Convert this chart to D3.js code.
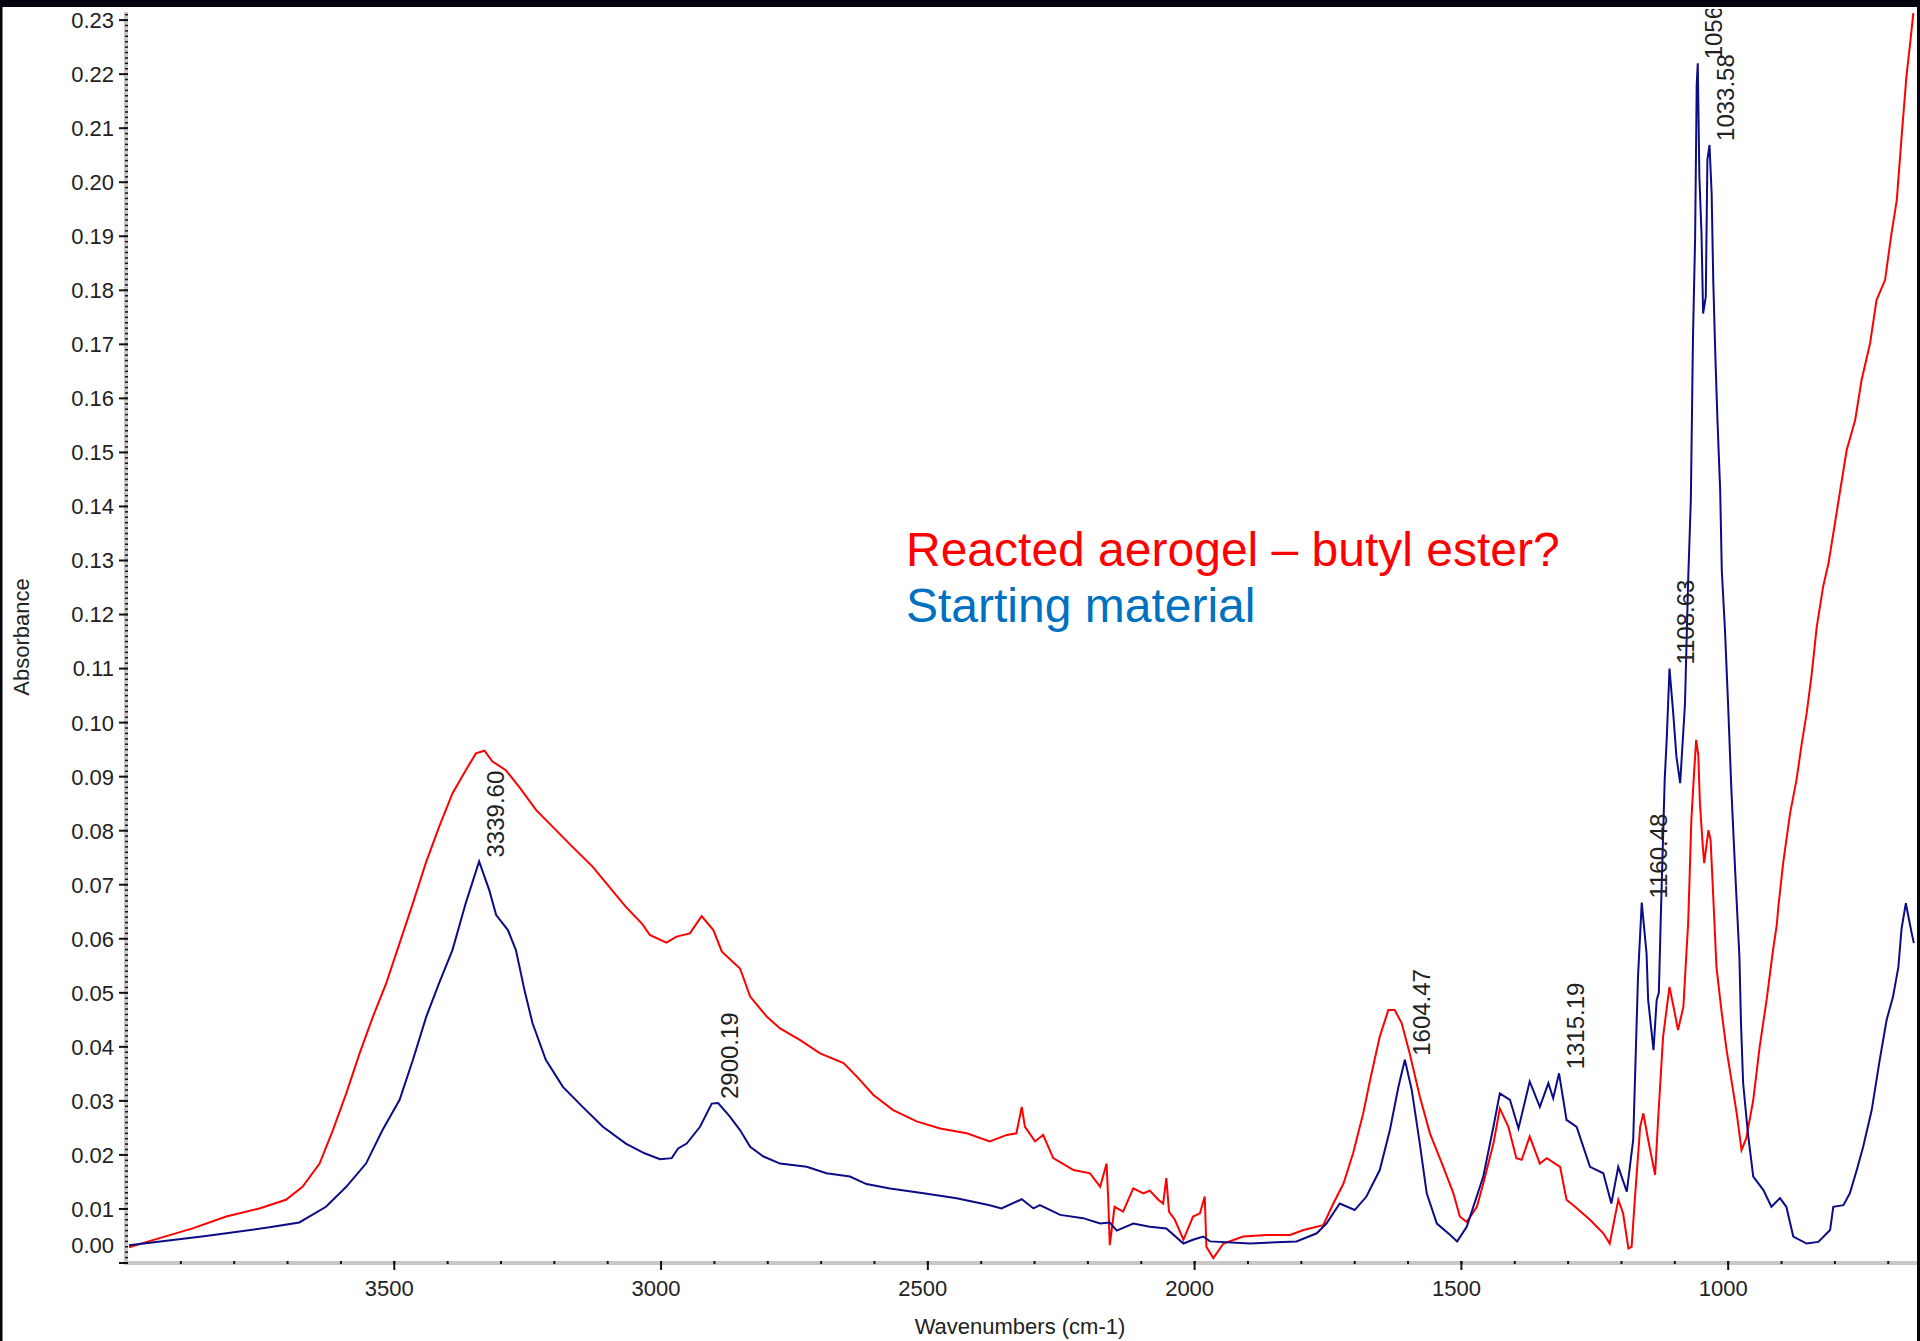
<!DOCTYPE html>
<html lang="en">
<head>
  <meta charset="UTF-8">
  <title>FTIR - Reacted aerogel vs starting material</title>
  <script src="https://d3js.org/d3.v7.min.js"></script>
  <style>
    html, body {
      margin: 0;
      padding: 0;
      background: #fff;
    }
    svg {
      display: block;
      font-family: "Liberation Sans", Arial, sans-serif;
    }
    .tick-label {
      font-size: 22px;
      fill: #222;
    }
    .peak-label {
      font-size: 24px;
      fill: #222;
    }
    .axis-title {
      font-size: 22px;
      fill: #222;
    }
    .legend {
      font-size: 48px;
    }
  </style>
</head>
<body>
  <svg id="chart" width="1920" height="1341"></svg>

  <script>
    // wavenumber (cm-1), absorbance
    const reacted = [
      [3997,0.0029],[3940,0.0046],[3878,0.0064],[3815,0.0086],[3753,0.0101],[3703,0.0117],
      [3672,0.0141],[3640,0.0184],[3615,0.0246],[3590,0.0314],[3565,0.0388],[3540,0.0456],
      [3515,0.0518],[3490,0.0592],[3465,0.0666],[3441,0.0740],[3416,0.0807],[3391,0.0869],
      [3366,0.0912],[3347,0.0943],[3331,0.0948],[3316,0.0928],[3291,0.0912],[3266,0.0881],
      [3234,0.0838],[3197,0.0801],[3166,0.0770],[3128,0.0733],[3097,0.0696],[3066,0.0659],
      [3035,0.0627],[3021,0.0607],[2990,0.0593],[2971,0.0604],[2946,0.0610],[2924,0.0642],
      [2902,0.0616],[2886,0.0576],[2852,0.0545],[2833,0.0493],[2802,0.0456],[2777,0.0434],
      [2740,0.0413],[2702,0.0388],[2658,0.0370],[2633,0.0345],[2602,0.0311],[2565,0.0283],
      [2521,0.0262],[2477,0.0249],[2427,0.0240],[2384,0.0225],[2352,0.0237],[2334,0.0240],
      [2324,0.0289],[2318,0.0252],[2299,0.0225],[2284,0.0237],[2265,0.0194],[2227,0.0172],
      [2196,0.0166],[2177,0.0141],[2165,0.0184],[2162,0.0120],[2159,0.0033],[2150,0.0104],
      [2134,0.0095],[2115,0.0138],[2096,0.0129],[2084,0.0134],[2068,0.0117],[2059,0.0110],
      [2053,0.0157],[2048,0.0095],[2037,0.0080],[2021,0.0043],[2003,0.0086],[1990,0.0092],
      [1981,0.0123],[1978,0.0030],[1965,0.0009],[1946,0.0036],[1909,0.0049],[1865,0.0052],
      [1821,0.0052],[1796,0.0061],[1759,0.0070],[1740,0.0110],[1721,0.0147],[1703,0.0203],
      [1684,0.0277],[1671,0.0339],[1653,0.0419],[1637,0.0468],[1625,0.0468],[1612,0.0444],
      [1597,0.0388],[1578,0.0308],[1559,0.0240],[1534,0.0178],[1515,0.0129],[1503,0.0086],
      [1490,0.0076],[1471,0.0104],[1459,0.0147],[1440,0.0221],[1428,0.0286],[1412,0.0252],
      [1397,0.0194],[1387,0.0191],[1372,0.0234],[1353,0.0184],[1340,0.0194],[1315,0.0178],
      [1303,0.0117],[1287,0.0104],[1259,0.0080],[1234,0.0055],[1222,0.0036],[1206,0.0117],
      [1197,0.0092],[1187,0.0027],[1181,0.0030],[1175,0.0117],[1165,0.0252],[1159,0.0277],
      [1150,0.0228],[1137,0.0163],[1131,0.0271],[1122,0.0419],[1110,0.0511],[1100,0.0462],
      [1094,0.0431],[1084,0.0474],[1078,0.0579],[1075,0.0629],[1069,0.0820],[1064,0.0906],
      [1060,0.0968],[1056,0.0940],[1053,0.0851],[1048,0.0777],[1045,0.0740],[1037,0.0801],
      [1033,0.0783],[1028,0.0678],[1022,0.0548],[1012,0.0462],[1003,0.0394],[994,0.0339],
      [984,0.0277],[975,0.0209],[966,0.0231],[953,0.0302],[941,0.0400],[928,0.0487],
      [916,0.0579],[909,0.0625],[906,0.0659],[897,0.0740],[884,0.0832],[872,0.0894],
      [862,0.0962],[853,0.1017],[844,0.1085],[834,0.1177],[822,0.1252],[812,0.1295],
      [803,0.1350],[791,0.1424],[778,0.1504],[762,0.1560],[750,0.1634],[734,0.1702],
      [722,0.1782],[706,0.1819],[694,0.1905],[684,0.1967],[675,0.2084],[666,0.2195],
      [659,0.2257],[653,0.2313]
    ];

    const starting = [
      [3997,0.0033],[3853,0.0050],[3734,0.0066],[3678,0.0075],[3628,0.0104],[3590,0.0141],
      [3553,0.0184],[3522,0.0246],[3490,0.0302],[3465,0.0376],[3440,0.0456],[3416,0.0518],
      [3391,0.0579],[3366,0.0666],[3341,0.0743],[3322,0.0690],[3309,0.0644],[3287,0.0616],
      [3272,0.0579],[3256,0.0505],[3241,0.0444],[3216,0.0376],[3184,0.0326],[3147,0.0289],
      [3109,0.0252],[3066,0.0221],[3031,0.0203],[3002,0.0192],[2980,0.0194],[2968,0.0212],
      [2952,0.0221],[2927,0.0252],[2905,0.0295],[2893,0.0296],[2871,0.0271],[2852,0.0246],
      [2833,0.0215],[2808,0.0197],[2777,0.0184],[2727,0.0178],[2690,0.0166],[2646,0.0160],
      [2615,0.0146],[2571,0.0138],[2508,0.0129],[2446,0.0120],[2384,0.0107],[2362,0.0101],
      [2324,0.0118],[2302,0.0101],[2290,0.0107],[2252,0.0089],[2209,0.0083],[2177,0.0073],
      [2159,0.0075],[2146,0.0060],[2115,0.0073],[2084,0.0067],[2053,0.0064],[2021,0.0036],
      [2003,0.0043],[1984,0.0049],[1971,0.0040],[1896,0.0036],[1809,0.0040],[1771,0.0055],
      [1753,0.0073],[1728,0.0110],[1700,0.0098],[1678,0.0123],[1653,0.0172],[1634,0.0246],
      [1618,0.0326],[1606,0.0376],[1593,0.0320],[1578,0.0221],[1565,0.0129],[1546,0.0073],
      [1521,0.0052],[1508,0.0040],[1490,0.0067],[1459,0.0160],[1440,0.0252],[1428,0.0314],
      [1409,0.0302],[1393,0.0249],[1372,0.0336],[1353,0.0289],[1337,0.0333],[1328,0.0305],
      [1317,0.0351],[1303,0.0265],[1284,0.0252],[1259,0.0178],[1234,0.0166],[1219,0.0110],
      [1206,0.0178],[1190,0.0132],[1178,0.0228],[1169,0.0530],[1162,0.0667],[1153,0.0573],
      [1150,0.0487],[1140,0.0394],[1134,0.0487],[1130,0.0500],[1126,0.0650],[1119,0.0894],
      [1115,0.0974],[1110,0.1100],[1103,0.1017],[1097,0.0937],[1090,0.0888],[1081,0.1034],
      [1075,0.1264],[1070,0.1412],[1066,0.1711],[1062,0.1896],[1059,0.2180],[1057,0.2220],
      [1054,0.2010],[1050,0.1905],[1047,0.1757],[1042,0.1788],[1039,0.2041],[1035,0.2069],
      [1031,0.1979],[1028,0.1819],[1024,0.1677],[1020,0.1557],[1015,0.1430],[1012,0.1282],
      [1006,0.1171],[1000,0.1029],[994,0.0875],[987,0.0727],[979,0.0567],[976,0.0444],
      [972,0.0333],[963,0.0240],[953,0.0160],[934,0.0135],[919,0.0104],[903,0.0120],
      [891,0.0104],[878,0.0049],[853,0.0036],[831,0.0039],[809,0.0061],[803,0.0104],
      [784,0.0107],[772,0.0129],[759,0.0172],[747,0.0215],[731,0.0283],[716,0.0376],
      [703,0.0450],[691,0.0493],[681,0.0548],[675,0.0619],[667,0.0666],[663,0.0645],
      [656,0.0610],[652,0.0592]
    ];

    // peak picks shown on the starting material trace
    const peakWn = [3339.60, 2900.19, 1604.47, 1315.19, 1160.48, 1108.63, 1056, 1033.58];
    const peakText = ["3339.60", "2900.19", "1604.47", "1315.19", "1160.48", "1108.63", "1056", "1033.58"];

    const xTickValues = [3500, 3000, 2500, 2000, 1500, 1000];
    const legendLabels = ["Reacted aerogel \u2013 butyl ester?", "Starting material"];
    const legendColors = ["#ff0000", "#0070c0"];

    const svg = d3.select("#chart");

    const x = d3.scaleLinear().domain([4002.8, 648]).range([126, 1916]);
    const y = d3.scaleLinear().domain([0, 0.2315]).range([1263, 12]);

    // clip regions
    const defs = svg.append("defs");
    defs.append("clipPath").attr("id", "plot-clip")
      .append("rect").attr("x", 128).attr("y", 10).attr("width", 1790).attr("height", 1262);
    defs.append("clipPath").attr("id", "label-clip")
      .append("rect").attr("x", 128).attr("y", 9).attr("width", 1789).attr("height", 1260);

    // axis bands
    svg.append("rect").attr("x", 124).attr("y", 12).attr("width", 4).attr("height", 1253).attr("fill", "#c8c8c8");
    svg.append("rect").attr("x", 124).attr("y", 1261).attr("width", 1793).attr("height", 4).attr("fill", "#c8c8c8");

    // y minor + major ticks
    svg.append("g").selectAll("rect")
      .data(d3.range(0, 232).map(i => i / 1000))
      .join("rect")
      .attr("x", 125).attr("width", 3)
      .attr("y", d => y(d) - 0.75).attr("height", 1.5)
      .attr("fill", "#111");

    const yMajor = d3.range(0, 24).map(i => i / 100);
    svg.append("g").selectAll("line")
      .data(yMajor)
      .join("line")
      .attr("x1", 119).attr("x2", 128)
      .attr("y1", d => y(d)).attr("y2", d => y(d))
      .attr("stroke", "#111").attr("stroke-width", 2);

    svg.append("g").selectAll("text")
      .data(yMajor)
      .join("text")
      .attr("class", "tick-label")
      .attr("x", 114)
      .attr("y", d => d === 0 ? y(d) - 18 : y(d))
      .attr("dy", "0.36em")
      .attr("text-anchor", "end")
      .text(d3.format(".2f"));

    // x minor + major ticks
    svg.append("g").selectAll("rect")
      .data(d3.range(700, 4000, 100))
      .join("rect")
      .attr("x", d => x(d) - 1).attr("width", 2)
      .attr("y", 1261).attr("height", 3)
      .attr("fill", "#111");

    svg.append("g").selectAll("line")
      .data(xTickValues)
      .join("line")
      .attr("x1", d => x(d)).attr("x2", d => x(d))
      .attr("y1", 1261).attr("y2", 1270)
      .attr("stroke", "#111").attr("stroke-width", 2);

    svg.append("g").selectAll("text")
      .data(xTickValues)
      .join("text")
      .attr("class", "tick-label")
      .attr("x", d => x(d) - 5)
      .attr("y", 1296)
      .attr("text-anchor", "middle")
      .text(d => d);

    // axis titles
    svg.append("text")
      .attr("class", "axis-title")
      .attr("transform", "translate(29,637) rotate(-90)")
      .attr("text-anchor", "middle")
      .text("Absorbance");

    svg.append("text")
      .attr("class", "axis-title")
      .attr("x", 1020).attr("y", 1334)
      .attr("text-anchor", "middle")
      .text("Wavenumbers (cm-1)");

    // spectra
    const line = d3.line().x(d => x(d[0])).y(d => y(d[1]));
    const traces = svg.append("g").attr("clip-path", "url(#plot-clip)");

    traces.append("path")
      .datum(reacted)
      .attr("d", line)
      .attr("fill", "none")
      .attr("stroke", "#ff0000")
      .attr("stroke-width", 2);

    traces.append("path")
      .datum(starting)
      .attr("d", line)
      .attr("fill", "none")
      .attr("stroke", "#0c0c86")
      .attr("stroke-width", 2);

    // peak labels, anchored at the local max of the starting trace
    const peaks = peakWn.map((wn, i) => {
      const near = starting.filter(d => Math.abs(d[0] - wn) <= 8);
      return { wn, text: peakText[i], a: d3.max(near, d => d[1]) };
    });

    svg.append("g").attr("clip-path", "url(#label-clip)")
      .selectAll("text")
      .data(peaks)
      .join("text")
      .attr("class", "peak-label")
      .attr("transform", d => `translate(${x(d.wn) + 24},${y(d.a) - 4}) rotate(-90)`)
      .text(d => d.text);

    // legend text
    svg.append("g").selectAll("text")
      .data(legendLabels)
      .join("text")
      .attr("class", "legend")
      .attr("x", 906)
      .attr("y", (d, i) => 566 + i * 56)
      .attr("fill", (d, i) => legendColors[i])
      .text(d => d);

    // window frame
    svg.append("rect").attr("x", 0).attr("y", 0).attr("width", 1920).attr("height", 7).attr("fill", "#05050f");
    svg.append("rect").attr("x", 0).attr("y", 0).attr("width", 2.5).attr("height", 1341).attr("fill", "#05050f");
    svg.append("rect").attr("x", 1917).attr("y", 0).attr("width", 3).attr("height", 1341).attr("fill", "#05050f");
  </script>
</body>
</html>
